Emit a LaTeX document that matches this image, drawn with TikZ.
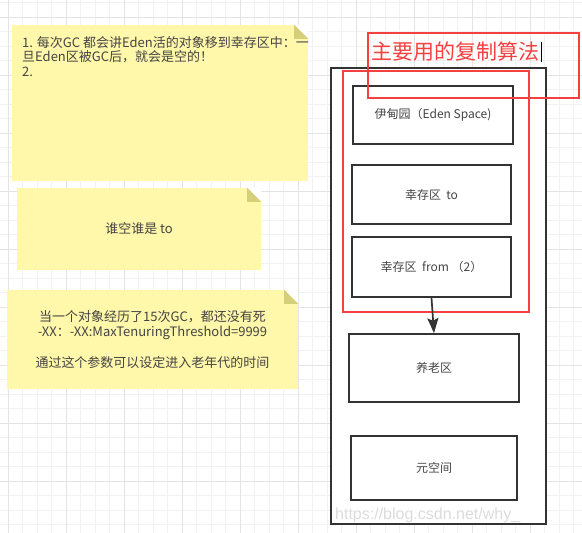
\documentclass[tikz,border=0pt]{standalone}
\usepackage{fontspec}
\setmainfont{Noto Sans CJK SC}
\newfontfamily\markfont{Liberation Sans}
\usetikzlibrary{arrows.meta}
\definecolor{noteyellow}{RGB}{255,247,170}
\definecolor{notefold}{RGB}{214,207,122}
\definecolor{gridminor}{RGB}{241,241,241}
\definecolor{gridmajor}{RGB}{228,228,228}
\definecolor{boxline}{RGB}{51,51,51}
\definecolor{boxtext}{RGB}{68,68,68}
\definecolor{markred}{RGB}{245,64,64}
\definecolor{markgray}{RGB}{220,220,220}
\tikzset{
  note/.style={fill=noteyellow,rectangle,inner sep=0pt},
  notetext/.style={text=boxtext,font=\fontsize{13}{15.5}\selectfont,align=center},
  box/.style={draw=boxline,line width=1.7pt,rectangle,fill=white,text=boxtext,
    font=\fontsize{12}{14}\selectfont},
  redbox/.style={draw=markred,line width=1.3pt,rectangle},
}
\begin{document}
\begin{tikzpicture}[x=1pt,y=-1pt,>={Stealth[length=15pt,width=11pt,inset=2.5pt]},line join=miter]
    \useasboundingbox[fill=white] (0,0) rectangle (582,533);
    %% grid
    \foreach \i in {0,...,39}
      \draw[gridminor,line width=1pt] ({8.3+14.5*\i},0) -- ++(0,533);
    \foreach \i in {0,...,36}
      \draw[gridminor,line width=1pt] (0,{2.8+14.5*\i}) -- ++(582,0);
    \foreach \i in {0,...,9}
      \draw[gridmajor,line width=1pt] ({8.3+58*\i},0) -- ++(0,533);
    \foreach \i in {0,...,8}
      \draw[gridmajor,line width=1pt] (0,{17.3+58*\i}) -- ++(582,0);
    %% notes
    \node (tip1) at (160,103) [note,minimum width=296,minimum height=156] {};
    \node (tip2) at (139,229) [note,minimum width=244,minimum height=82,notetext] {谁空谁是 to};
    \node (tip3) at (152.5,339.5) [note,minimum width=291,minimum height=99,notetext]
      {当一个对象经历了15次GC，都还没有死\\-XX：-XX:MaxTenuringThreshold=9999\\[15.5pt]通过这个参数可以设定进入老年代的时间};
    \foreach \n in {tip1,tip2,tip3} {
      \fill[white] (\n.north east) -- ++(-14,0) -- ++(14,14) -- cycle;
      \fill[notefold] (\n.north east) ++(-14,0) -- ++(14,14) -- ++(-14,0) -- cycle;
    }
    \node (tip1text) at (22,36) [anchor=north west,inner sep=0pt,notetext,align=left,
      font=\fontsize{13}{14.5}\selectfont]
      {1. 每次GC 都会讲Eden活的对象移到幸存区中：一\\旦Eden区被GC后，就会是空的！\\2.};
    %% heap
    \node (heap) at (438.5,296) [box,minimum width=215,minimum height=456] {};
    \node (eden) at (433,115) [box,minimum width=160,minimum height=58] {伊甸园（Eden Space)};
    \node (to) at (431.5,194.5) [box,minimum width=159,minimum height=59] {幸存区\ \ to};
    \node (from) at (431.5,267) [box,minimum width=159,minimum height=60] {幸存区\ \ from （2）};
    \node (old) at (434,368) [box,minimum width=170,minimum height=68] {养老区};
    \node (meta) at (434,468) [box,minimum width=166,minimum height=64] {元空间};
    \node (young) at (436,191.5) [redbox,minimum width=186,minimum height=241] {};
    \draw [->,boxline,line width=1.7pt] (from.south) -- (old.north);
    %% title
    \node (titlebox) at (473.5,65.5) [redbox,minimum width=211,minimum height=65] {};
    \node (title) at (371,52) [anchor=west,inner sep=0pt,text=markred,
      font=\fontsize{21}{24}\selectfont] {主要用的复制算法};
    \draw [black,line width=0.8pt] ([xshift=2pt]title.north east) -- ([xshift=2pt]title.south east);
    %
    \node (mark) at (335,515) [anchor=west,inner sep=0pt,text=markgray,
      font=\markfont\fontsize{16}{18}\selectfont] {https://blog.csdn.net/why\_};
\end{tikzpicture}
\end{document}
